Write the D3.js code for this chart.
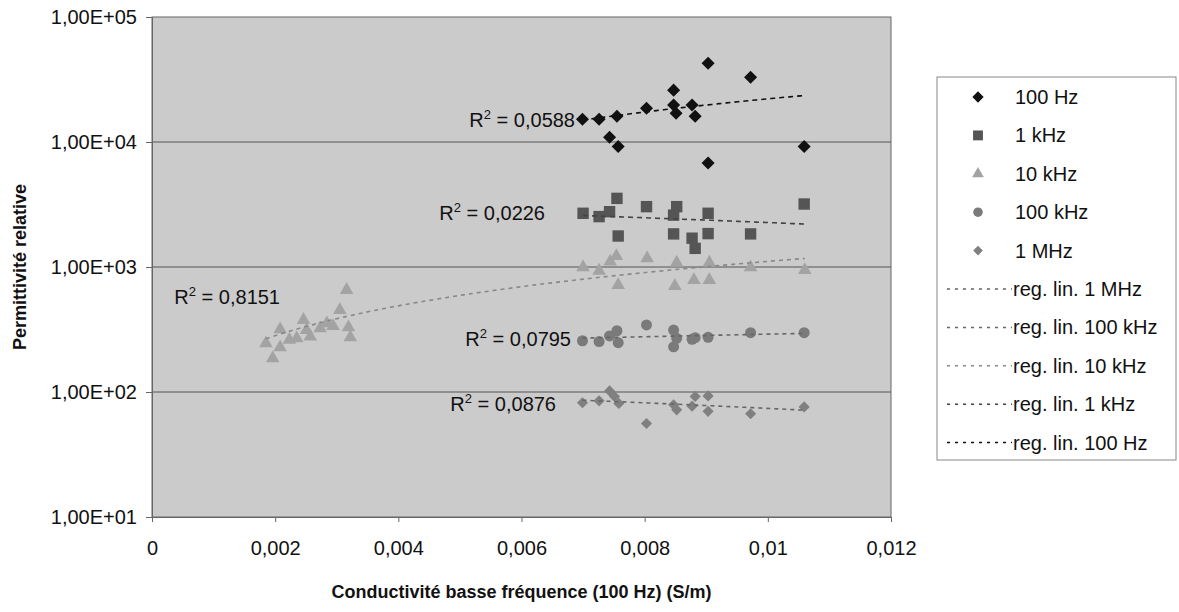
<!DOCTYPE html>
<html><head><meta charset="utf-8">
<script src="https://cdn.jsdelivr.net/npm/d3@7"></script>
<style>body{margin:0;background:#fff}svg{display:block;font-family:"Liberation Sans",Arial,sans-serif}</style>
</head><body><svg id="c" width="1179" height="612"></svg>
<script>
// ---- data ----
const xTicks = [0, 0.002, 0.004, 0.006, 0.008, 0.01, 0.012];
const xTickLabels = ["0", "0,002", "0,004", "0,006", "0,008", "0,01", "0,012"];
const yTicks = [10, 100, 1000, 10000, 100000];
const yTickLabels = ["1,00E+01", "1,00E+02", "1,00E+03", "1,00E+04", "1,00E+05"];

const x100Hz = [0.00699, 0.00726, 0.00755, 0.00743, 0.00757, 0.00803, 0.00847, 0.00847, 0.00851, 0.00877, 0.00882, 0.00903, 0.00903, 0.00972, 0.01059];
const y100Hz = [15200, 15200, 16100, 10900, 9200, 18600, 26000, 19800, 17000, 19800, 16100, 42600, 6800, 33000, 9200];

const x1kHz = [0.00700, 0.00726, 0.00743, 0.00755, 0.00757, 0.00803, 0.00852, 0.00847, 0.00847, 0.00877, 0.00882, 0.00903, 0.00903, 0.00972, 0.01059];
const y1kHz = [2690, 2530, 2770, 3540, 1770, 3040, 3040, 2600, 1840, 1700, 1410, 2690, 1850, 1840, 3190];

const x10kHz = [0.00185, 0.00196, 0.00208, 0.00208, 0.00223, 0.00235, 0.00246, 0.00251, 0.00257, 0.00273, 0.00284, 0.00294, 0.00305, 0.00316, 0.00319, 0.00322,
                0.00700, 0.00726, 0.00744, 0.00754, 0.00757, 0.00804, 0.00852, 0.00849, 0.00880, 0.00905, 0.00905, 0.00972, 0.01060];
const y10kHz = [245, 186, 317, 228, 261, 269, 377, 313, 277, 323, 354, 337, 453, 655, 329, 274,
                994, 934, 1103, 1225, 718, 1174, 1082, 705, 787, 787, 1082, 994, 946];

const x100kHz = [0.00699, 0.00726, 0.00743, 0.00755, 0.00757, 0.00803, 0.00847, 0.00847, 0.00852, 0.00877, 0.00882, 0.00903, 0.00972, 0.01059];
const y100kHz = [257, 253, 281, 309, 248, 344, 313, 230, 269, 264, 272, 274, 298, 298];

const x1MHz = [0.00699, 0.00726, 0.00743, 0.00751, 0.00758, 0.00803, 0.00847, 0.00852, 0.00877, 0.00882, 0.00903, 0.00903, 0.00972, 0.01059];
const y1MHz = [82, 85, 102, 92, 81, 56, 79, 72, 77, 92, 93, 70, 67, 76];

const seriesNames = ["100 Hz", "1 kHz", "10 kHz", "100 kHz", "1 MHz"];
const regNames = ["reg. lin. 1 MHz", "reg. lin. 100 kHz", "reg. lin. 10 kHz", "reg. lin. 1 kHz", "reg. lin. 100 Hz"];
const r2Labels = ["0,0588", "0,0226", "0,8151", "0,0795", "0,0876"];

// ---- styling ----
const svg = d3.select("#c");
const L = 152, R = 891, T = 17, B = 517;
const x = d3.scaleLinear().domain([0, 0.012]).range([L, R]);
const y = d3.scaleLog().domain([10, 100000]).range([B, T]);

const series = [
  {name: seriesNames[0], xs: x100Hz, ys: y100Hz, sym: d3.symbolSquare, rot: 45, size: 85, fill: "#111", line: "#111", dash: "5,4", r2: r2Labels[0], lab: [575, 127]},
  {name: seriesNames[1], xs: x1kHz, ys: y1kHz, sym: d3.symbolSquare, rot: 0, size: 130, fill: "#555", line: "#444", dash: "5,4", r2: r2Labels[1], lab: [545, 220]},
  {name: seriesNames[2], xs: x10kHz, ys: y10kHz, sym: d3.symbolTriangle, rot: 0, size: 80, fill: "#a3a3a3", line: "#888", dash: "4,4", r2: r2Labels[2], lab: [280, 304]},
  {name: seriesNames[3], xs: x100kHz, ys: y100kHz, sym: d3.symbolCircle, rot: 0, size: 95, fill: "#7a7a7a", line: "#666", dash: "4,4", r2: r2Labels[3], lab: [571, 346]},
  {name: seriesNames[4], xs: x1MHz, ys: y1MHz, sym: d3.symbolSquare, rot: 45, size: 62, fill: "#808080", line: "#666", dash: "4,4", r2: r2Labels[4], lab: [556, 411]}
];

// plot area
svg.append("rect").attr("x", L).attr("y", T).attr("width", R - L).attr("height", B - T)
  .attr("fill", "#cbcbcb").attr("stroke", "#666").attr("stroke-width", 1);

// grid lines
svg.append("g").selectAll("line").data(yTicks.filter(v => v > 10 && v < 100000)).join("line")
  .attr("x1", L).attr("x2", R).attr("y1", d => y(d)).attr("y2", d => y(d))
  .attr("stroke", "#555").attr("stroke-width", 1);

// axes
const yAxis = svg.append("g").attr("transform", `translate(${L},0)`)
  .call(d3.axisLeft(y).tickValues(yTicks).tickFormat((d, i) => yTickLabels[i]).tickSize(6).tickPadding(9));
const xAxis = svg.append("g").attr("transform", `translate(0,${B})`)
  .call(d3.axisBottom(x).tickValues(xTicks).tickFormat((d, i) => xTickLabels[i]).tickSize(5).tickPadding(19));
[yAxis, xAxis].forEach(a => {
  a.select(".domain").attr("stroke", "#666");
  a.selectAll(".tick line").attr("stroke", "#666");
  a.selectAll("text").attr("font-size", 20).attr("fill", "#111").attr("font-family", "Liberation Sans, Arial, sans-serif");
});

// regression lines (least squares, linear in y, drawn on log axis)
function fit(xs, ys) {
  const n = xs.length, mx = d3.mean(xs), my = d3.mean(ys);
  let sxy = 0, sxx = 0;
  for (let i = 0; i < n; i++) { sxy += (xs[i] - mx) * (ys[i] - my); sxx += (xs[i] - mx) ** 2; }
  const b = sxy / sxx; return {a: my - b * mx, b};
}
const lineGen = d3.line().x(d => x(d[0])).y(d => y(d[1]));
series.forEach(s => {
  const f = fit(s.xs, s.ys);
  const [x0, x1] = d3.extent(s.xs);
  s.pts = d3.range(0, 61).map(k => { const xv = x0 + (x1 - x0) * k / 60; return [xv, f.a + f.b * xv]; });
});

// markers
series.forEach(s => {
  svg.append("g").selectAll("path").data(s.xs.map((v, i) => [v, s.ys[i]])).join("path")
    .attr("transform", d => `translate(${x(d[0])},${y(d[1])}) rotate(${s.rot})`)
    .attr("d", d3.symbol().type(s.sym).size(s.size))
    .attr("fill", s.fill);
});
series.forEach(s => {
  svg.append("path").attr("d", lineGen(s.pts)).attr("fill", "none")
    .attr("stroke", s.line).attr("stroke-width", 1.6).attr("stroke-dasharray", s.dash);
});

// R² labels
series.forEach(s => {
  const t = svg.append("text").attr("x", s.lab[0]).attr("y", s.lab[1]).attr("text-anchor", "end")
    .attr("font-size", 20).attr("fill", "#111");
  t.append("tspan").text("R");
  t.append("tspan").attr("font-size", 13).attr("dy", -8).text("2");
  t.append("tspan").attr("dy", 8).text(" = " + s.r2);
});

// axis titles
svg.append("text").attr("x", (L + R) / 2).attr("y", 598).attr("text-anchor", "middle")
  .attr("font-size", 18).attr("font-weight", "bold").attr("fill", "#111")
  .text("Conductivité basse fréquence (100 Hz) (S/m)");
svg.append("text").attr("transform", `translate(26,${(T + B) / 2}) rotate(-90)`).attr("text-anchor", "middle")
  .attr("font-size", 18).attr("font-weight", "bold").attr("fill", "#111")
  .text("Permittivité relative");

// legend
const lg = svg.append("g");
lg.append("rect").attr("x", 937).attr("y", 77).attr("width", 239).attr("height", 383)
  .attr("fill", "#fff").attr("stroke", "#888");
const step = 38.4, y0 = 97;
series.forEach((s, i) => {
  const cy = y0 + i * step;
  lg.append("path").attr("transform", `translate(978,${cy}) rotate(${s.rot})`)
    .attr("d", d3.symbol().type(s.sym).size(s.size * 0.75)).attr("fill", s.fill);
  lg.append("text").attr("x", 1015).attr("y", cy + 7).attr("font-size", 20).attr("fill", "#111").text(s.name);
});
const regOrder = [4, 3, 2, 1, 0];
regNames.forEach((nm, j) => {
  const cy = y0 + (5 + j) * step;
  const s = series[regOrder[j]];
  lg.append("line").attr("x1", 947).attr("x2", 1012).attr("y1", cy).attr("y2", cy)
    .attr("stroke", s.line).attr("stroke-width", 1.5).attr("stroke-dasharray", "3,5");
  lg.append("text").attr("x", 1013).attr("y", cy + 7).attr("font-size", 20).attr("fill", "#111").text(nm);
});
</script></body></html>
